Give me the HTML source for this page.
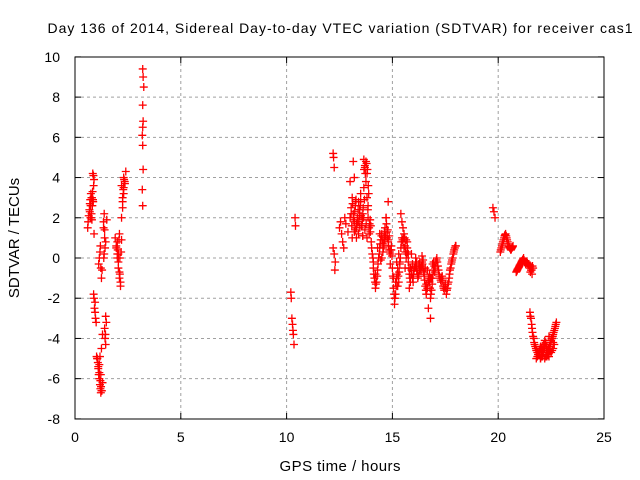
<!DOCTYPE html>
<html><head><meta charset="utf-8"><style>
body{margin:0;background:#fff}
svg{display:block;font-family:"Liberation Sans",sans-serif}
</style></head><body>
<svg id="c" width="640" height="480">
<text x="340" y="33" font-size="14" text-anchor="middle" textLength="585">Day 136 of 2014, Sidereal Day-to-day VTEC variation (SDTVAR) for receiver cas1</text>
<text x="340" y="471" font-size="15" text-anchor="middle" textLength="121">GPS time / hours</text>
<text transform="translate(19,238) rotate(-90)" font-size="15" text-anchor="middle">SDTVAR / TECUs</text>
<g id="grid"></g><g id="ticks"></g><g id="pts"></g>
<rect x="75" y="57" width="529" height="362" fill="none" stroke="#000"/>
</svg>
<script>
const xTicks=[0,5,10,15,20,25];
const yTicks=[-8,-6,-4,-2,0,2,4,6,8,10];
const times=[0.6,0.62,0.65,0.68,0.7,0.72,0.75,0.78,0.8,0.82,0.85,0.88,0.9,0.87,0.84,0.8,0.76,0.9,
0.88,0.9,0.92,0.95,0.97,1.0,
1.02,1.05,1.08,1.1,1.12,1.15,1.18,1.2,1.22,1.25,1.15,1.25,1.3,
1.12,1.15,1.18,1.2,1.22,1.25,1.28,
1.35,1.38,1.4,1.42,1.45,1.4,1.42,1.45,
1.9,1.95,2.0,2.05,2.1,2.15,2.0,2.1,2.05,2.12,
2.2,2.25,2.3,2.35,2.4,2.3,2.25,2.2,
3.2,3.22,3.25,3.2,3.22,3.18,3.2,3.22,3.18,3.2,3.2,
10.2,10.22,10.25,10.28,10.3,10.32,10.35,10.4,10.42,
12.2,12.22,12.25,12.2,12.25,12.3,12.28,
12.5,12.55,12.6,12.65,12.7,12.75,12.8,12.9,
13.0,13.05,13.1,13.15,13.2,13.25,13.3,13.35,13.4,13.45,13.5,13.55,13.6,13.65,13.7,13.75,13.8,13.85,13.9,13.95,
13.1,13.2,13.3,13.4,13.5,13.6,13.7,13.8,13.9,13.65,13.7,13.75,13.8,13.85,13.2,13.3,13.0,13.15,13.6,
14.0,14.05,14.1,14.15,14.2,14.25,14.3,14.35,14.4,14.45,14.5,14.55,14.6,14.65,14.7,14.75,14.8,14.85,14.9,14.95,
14.1,14.2,14.3,14.4,14.5,14.6,14.7,14.8,14.9,14.75,14.8,
15.0,15.05,15.1,15.15,15.2,15.25,15.3,15.35,15.4,15.45,15.5,15.55,15.6,15.65,15.7,15.75,15.8,15.85,15.9,15.95,
15.05,15.1,15.2,15.3,15.5,15.6,15.7,15.8,15.9,15.4,15.45,
16.0,16.05,16.1,16.15,16.2,16.25,16.3,16.35,16.4,16.45,16.5,16.55,16.6,16.65,16.7,16.75,16.8,16.85,16.9,16.95,
16.1,16.3,16.5,16.7,16.8,16.8,16.9,16.6,16.4,
17.0,17.05,17.1,17.15,17.2,17.25,17.3,17.35,17.4,17.45,17.5,17.55,17.6,17.65,17.7,17.75,17.8,17.85,17.9,17.95,18.0,
19.75,19.8,19.85,
20.1,20.15,20.2,20.25,20.3,20.35,20.4,20.45,20.5,20.55,20.6,20.65,20.7,
20.85,20.9,20.95,21.0,21.05,21.1,21.15,21.2,21.25,21.3,21.35,21.4,21.45,21.5,21.55,21.6,21.65,
21.5,21.55,21.6,21.65,21.7,21.75,21.8,21.85,21.9,21.95,22.0,22.05,22.1,22.15,22.2,22.25,22.3,22.35,22.4,22.45,22.5,22.55,22.6,22.65,22.7,22.75,
21.8,21.9,22.0,22.1,22.2,22.3,22.4,22.5,22.6,22.2,22.4];
const vals=[1.5,1.8,2.1,2.4,2.7,2.9,3.2,2.2,1.9,2.6,2.9,3.6,3.9,4.1,4.2,3.0,2.0,1.2,
-1.8,-2.0,-2.5,-2.7,-3.0,-3.2,
-4.9,-5.0,-5.2,-5.5,-5.8,-6.0,-6.3,-6.5,-6.7,-6.6,-5.3,-4.5,-3.8,
-0.3,0.0,0.3,0.6,-0.5,-1.0,-0.6,
1.5,2.2,1.0,0.5,-2.9,-3.5,-4.0,-4.3,
1.0,0.5,0.0,-0.5,-1.0,-1.4,0.8,1.2,0.2,-0.8,
2.0,2.8,3.5,3.8,4.3,3.2,2.5,3.6,
9.4,9.0,8.5,7.6,6.8,6.1,5.6,4.4,3.4,2.6,6.5,
-1.7,-2.0,-3.0,-3.3,-3.6,-3.8,-4.3,2.0,1.6,
5.2,5.0,4.5,0.5,0.2,-0.2,-0.6,
1.5,1.8,1.2,0.8,0.5,2.0,1.7,1.3,
2.0,2.5,3.0,2.2,1.8,2.6,1.5,2.0,1.2,2.4,2.8,1.6,2.2,3.5,4.5,4.8,4.2,2.0,1.5,1.9,
1.0,1.3,1.7,2.8,3.2,1.1,1.4,1.0,1.2,4.9,4.6,3.8,3.0,2.6,4.0,1.0,3.8,4.8,1.1,
0.8,0.2,-0.5,-1.0,-1.5,-1.2,-0.6,0.0,0.5,0.9,1.2,0.7,1.0,1.5,2.0,1.0,0.8,0.4,0.2,0.6,
-0.2,-0.8,0.5,1.2,0.0,0.6,2.0,2.8,-0.3,1.3,0.9,
-0.5,-1.5,-2.3,-1.8,-1.0,-0.5,-1.2,-0.2,0.5,1.0,0.8,1.2,0.6,0.0,0.5,-0.2,-0.8,-1.2,-0.6,-1.0,
-1.0,-2.0,-0.2,0.2,1.5,-0.5,0.8,-1.5,0.2,2.2,1.8,
-0.8,-0.5,-0.3,-0.6,-1.0,-0.8,-0.4,-0.6,-0.2,-0.5,-0.9,-1.4,-1.8,-1.5,-1.0,-1.2,-2.0,-1.6,-1.0,-0.6,
0.0,-0.2,-0.8,-2.5,-3.0,-1.0,-0.3,-1.3,0.1,
-0.7,-0.2,0.0,-0.4,-0.8,-1.0,-1.2,-0.9,-1.4,-1.6,-1.3,-1.8,-1.5,-1.2,-0.8,-0.5,-0.2,0.0,0.3,0.5,0.6,
2.5,2.3,2.0,
0.3,0.5,0.7,0.9,1.1,1.2,1.0,0.8,0.6,0.5,0.4,0.5,0.6,
-0.7,-0.6,-0.5,-0.4,-0.3,-0.2,-0.1,0.0,-0.2,-0.3,-0.2,-0.3,-0.3,-0.4,-0.6,-0.8,-0.5,
-2.7,-3.0,-3.5,-3.9,-4.2,-4.4,-4.6,-4.7,-4.8,-4.6,-4.4,-4.5,-4.7,-4.3,-4.5,-4.2,-4.4,-4.7,-4.6,-4.3,-4.1,-4.0,-3.8,-3.6,-3.4,-3.2,
-5.0,-4.8,-5.0,-4.9,-5.0,-4.8,-4.9,-4.7,-4.5,-4.1,-3.9];
// additional observations in the dense clusters
const times2=[0.7,0.74,0.78,0.83,0.86,0.73,0.95,1.05,1.1,1.15,1.2,1.23,1.27,1.3,1.18,1.22,
1.35,1.4,1.45,1.5,1.38,1.48,1.36,1.44,
1.95,2.0,2.05,2.1,2.15,2.2,2.02,2.08,2.12,2.18,2.25,2.28,2.32,2.36,2.3,
13.05,13.12,13.18,13.22,13.28,13.33,13.38,13.42,13.48,13.52,13.58,13.62,13.68,13.72,13.78,13.82,13.88,13.92,13.98,
13.08,13.16,13.24,13.36,13.44,13.56,13.64,13.76,13.84,13.96,13.26,13.46,13.66,13.86,
14.02,14.08,14.12,14.18,14.22,14.28,14.32,14.38,14.42,14.48,14.52,14.58,14.62,14.68,14.72,14.78,14.82,14.88,14.92,14.98,
14.55,14.65,14.85,14.95,14.45,
15.02,15.08,15.12,15.18,15.22,15.28,15.32,15.38,15.42,15.48,15.52,15.58,15.62,15.68,15.72,15.78,15.82,15.88,15.92,15.98,
15.15,15.25,15.35,15.55,15.65,15.75,15.85,15.95,
16.02,16.08,16.12,16.18,16.22,16.28,16.32,16.38,16.42,16.48,16.52,16.58,16.62,16.68,16.72,16.78,16.82,16.88,16.92,16.98,
16.15,16.25,16.35,16.45,16.55,16.65,16.75,16.85,16.95,
17.02,17.08,17.12,17.18,17.22,17.28,17.32,17.38,17.42,17.48,17.52,17.58,17.62,17.68,17.72,17.78,17.82,17.88,17.92,17.98,
20.12,20.18,20.22,20.28,20.32,20.38,20.42,20.48,20.52,20.58,20.62,20.68,
20.88,20.92,20.98,21.02,21.08,21.12,21.18,21.22,21.28,21.32,21.38,21.42,21.48,21.52,21.58,21.62,
21.52,21.58,21.62,21.68,21.72,21.78,21.82,21.88,21.92,21.98,22.02,22.08,22.12,22.18,22.22,22.28,22.32,22.38,22.42,22.48,22.52,22.58,22.62,22.68,22.72,
21.85,21.95,22.05,22.15,22.25,22.35,22.45,22.55,22.65,22.0,22.3,22.6];
const vals2=[2.3,2.6,3.0,3.3,2.8,2.0,-2.2,-5.0,-5.4,-5.7,-6.1,-6.4,-6.6,-6.2,-4.9,-5.8,
1.8,1.4,0.8,1.9,0.2,-3.2,0.0,-3.8,
0.6,0.2,-0.2,-0.7,-1.2,0.9,0.4,0.9,0.0,0.3,3.0,3.4,3.9,3.7,4.0,
2.2,2.7,1.9,2.3,2.9,1.7,2.4,1.8,2.6,2.1,1.9,2.5,2.9,4.2,4.7,4.4,3.2,1.7,1.6,
1.6,2.0,1.4,1.8,2.1,1.6,2.0,1.7,2.4,1.3,2.8,1.5,4.4,3.6,
0.5,0.0,-0.8,-1.2,-1.3,-0.9,-0.3,0.2,0.7,1.1,0.9,0.5,1.3,1.1,1.7,1.4,0.6,0.3,0.4,0.1,
0.3,0.9,1.1,0.4,-0.1,
-0.9,-1.8,-2.0,-1.4,-0.8,-0.9,-0.7,0.0,0.8,0.9,1.0,1.0,0.3,0.2,0.3,-0.5,-1.0,-0.8,-0.8,-1.2,
-1.2,-1.4,-0.3,0.5,0.9,0.2,-0.5,-0.3,
-0.6,-0.4,-0.5,-0.8,-0.9,-0.6,-0.5,-0.4,-0.3,-0.7,-1.1,-1.6,-1.6,-1.2,-1.1,-1.5,-1.8,-1.3,-0.8,-0.4,
-0.2,-0.3,-0.6,-0.1,-0.5,-0.6,-0.8,-1.0,-0.2,
-0.5,-0.1,-0.2,-0.6,-0.9,-1.1,-1.0,-1.1,-1.5,-1.4,-1.5,-1.6,-1.3,-1.0,-0.6,-0.3,-0.1,0.2,0.4,0.6,
0.4,0.6,0.8,1.0,1.15,1.1,0.9,0.7,0.55,0.45,0.45,0.55,
-0.65,-0.55,-0.45,-0.35,-0.25,-0.15,-0.05,-0.1,-0.25,-0.25,-0.25,-0.35,-0.5,-0.7,-0.6,-0.4,
-2.9,-3.3,-3.7,-4.0,-4.3,-4.5,-4.6,-4.8,-4.7,-4.5,-4.6,-4.4,-4.6,-4.4,-4.3,-4.5,-4.6,-4.5,-4.4,-4.2,-4.0,-3.9,-3.7,-3.5,-3.3,
-4.9,-4.8,-4.9,-4.7,-4.9,-4.8,-4.6,-4.6,-4.3,-5.0,-4.9,-4.2];
const NS="http://www.w3.org/2000/svg";
const X=t=>75+t*(529/25), Y=v=>258-v*(362/18);
const grid=document.getElementById('grid'),tk=document.getElementById('ticks'),pts=document.getElementById('pts');
function mk(tag,at,p){const e=document.createElementNS(NS,tag);for(const k in at)e.setAttribute(k,at[k]);p.appendChild(e);return e;}
xTicks.forEach(t=>{const x=X(t);
 if(t>0&&t<25){const g=mk('line',{x1:x,x2:x,y1:57,y2:419,stroke:'#a0a0a0','stroke-dasharray':'3,3'},grid);
 
 }
 const l=mk('text',{x:x,y:442,'font-size':14,'text-anchor':'middle'},tk);l.textContent=t;
 
 
 mk('line',{x1:x,x2:x,y1:419,y2:413,stroke:'#000'},tk);mk('line',{x1:x,x2:x,y1:57,y2:63,stroke:'#000'},tk);});
yTicks.forEach(v=>{const y=Y(v);
 if(v>-8&&v<10){const g=mk('line',{x1:75,x2:604,y1:y,y2:y,stroke:'#a0a0a0','stroke-dasharray':'3,3'},grid);
 
 }
 const l=mk('text',{x:60,y:y+5,'font-size':14,'text-anchor':'end'},tk);l.textContent=v;
 
 
 mk('line',{x1:75,x2:81,y1:y,y2:y,stroke:'#000'},tk);mk('line',{x1:604,x2:598,y1:y,y2:y,stroke:'#000'},tk);});
function plot(ts,vs){for(let i=0;i<ts.length;i++){const x=X(ts[i]),y=Y(vs[i]);
 const p=mk('path',{d:`M${x-4},${y}h8M${x},${y-4}v8`,stroke:'#f00','stroke-width':1.3},pts);
 
 }}
plot(times,vals);
plot(times2,vals2);
</script>
</body></html>
